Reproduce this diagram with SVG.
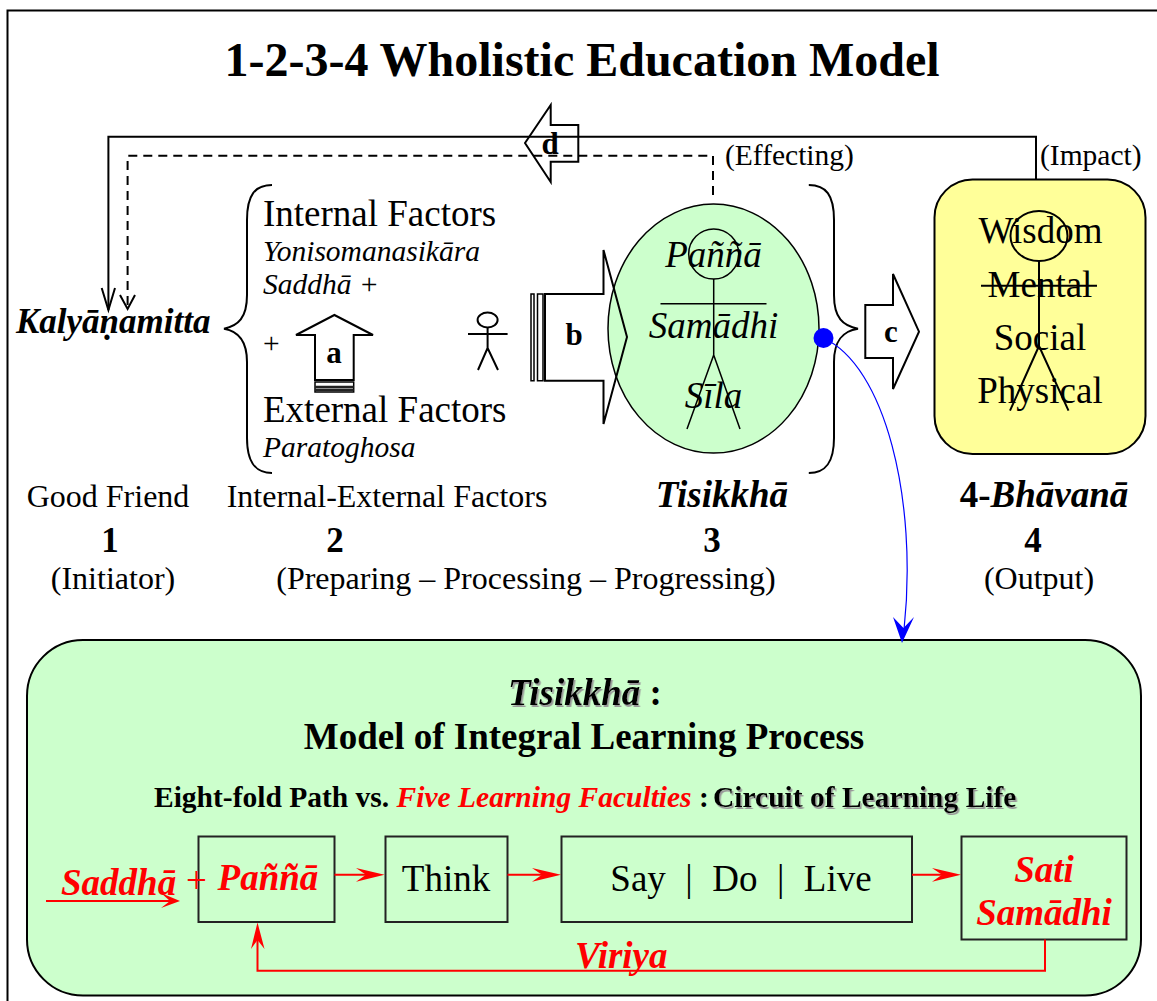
<svg xmlns="http://www.w3.org/2000/svg" width="1157" height="1001" viewBox="0 0 1157 1001">
<style>
text{font-family:"Liberation Serif","Times New Roman",serif;fill:#000}
.c{text-anchor:middle}
.b{font-weight:bold}
.i{font-style:italic}
.r{fill:#f00}
.s29{font-size:29.500px}.s32{font-size:32px}.s37{font-size:37px}.s29b{font-size:29.500px}.s31{font-size:31px}
.ln{fill:none;stroke:#000;stroke-width:2}
.thin{fill:none;stroke:#000;stroke-width:1.5}
.red{fill:none;stroke:#f00;stroke-width:2}
.box{fill:#ccffcc;stroke:#222;stroke-width:2}
.hd{fill:#f00;stroke:none}
</style>
<defs>
<filter id="sh" x="-5%" y="-20%" width="110%" height="150%"><feDropShadow dx="1.5" dy="2" stdDeviation="0.6" flood-color="#999"/></filter>
</defs>
<rect width="1157" height="1001" fill="#fff"/>
<path d="M7.500,1001V10.500H1157" class="ln"/>
<text x="582" y="76" class="c b" style="font-size:48px">1-2-3-4 Wholistic Education Model</text>

<g id="node-kalyanamitta"><text x="16" y="333" class="b i" style="font-size:35px">Kalyāṇamitta</text></g>

<g id="node-factors">
<path d="M272,185C255,185 247,195 247,220V295C247,318 238,326 224,328.700C238,331 247,340 247,362V438C247,462 255,473 272,473" class="ln"/>
<text x="263" y="226" class="s37">Internal Factors</text>
<text x="263" y="260.500" class="i s29">Yonisomanasikāra</text>
<text x="263" y="294" class="i s29">Saddhā +</text>
<text x="263" y="353" class="s29">+</text>
<text x="263" y="422" class="s37">External Factors</text>
<text x="263" y="457" class="i s29">Paratoghosa</text>
</g>

<g id="node-person-small" class="ln">
<ellipse cx="487.600" cy="320" rx="10" ry="7.500"/>
<path d="M487.600,327.500V348M468,334H507.600M478,370L487.600,348L498,370"/>
</g>

<g id="arrow-b-fill"><path d="M545,294H603.500V250L627,337L603.500,424V380.700H545Z" fill="#fff"/></g>

<g id="node-tisikkha">
<ellipse cx="713.500" cy="328.600" rx="105.500" ry="124.500" fill="#ccffcc" stroke="#000" stroke-width="1.500"/>
<g class="thin"><circle cx="713.700" cy="254" r="25"/><path d="M713.700,279V355M660.500,303.700H766.500M687,429L713.700,355L740,429"/></g>
<text x="713.500" y="267" class="c i s37">Paññā</text>
<text x="713.500" y="338" class="c i s37">Samādhi</text>
<text x="713.500" y="408" class="c i s37">Sīla</text>
</g>

<g id="node-brace-right"><path d="M808.800,185C826,185 834,195 834,220V295C834,318 843,326 858,328.700C843,331 834,340 834,362V438C834,462 826,473 808.800,473" class="ln"/></g>

<g id="node-bhavana">
<rect x="934.500" y="179.500" width="211" height="274.500" rx="38" fill="#ffff99" stroke="#000" stroke-width="2"/>
<g class="ln"><ellipse cx="1039" cy="236" rx="28.500" ry="25"/><path d="M1039,261V346M1010,410.700L1039,346L1068.500,410.700M981,285.700H1097"/></g>
<text x="1040.500" y="243" class="c s37">Wisdom</text>
<text x="1040" y="297" class="c s37">Mental</text>
<text x="1040" y="350" class="c s37">Social</text>
<text x="1040" y="403" class="c s37">Physical</text>
</g>

<g id="node-labels">
<text x="108" y="507" class="c s32">Good Friend</text>
<text x="387" y="507" class="c s32">Internal-External Factors</text>
<text x="722" y="507" class="c b i s37">Tisikkhā</text>
<text x="1044" y="507" class="c b s37">4-<tspan class="i">Bhāvanā</tspan></text>
<text x="110" y="552" class="c b" style="font-size:35px">1</text>
<text x="335" y="552" class="c b" style="font-size:35px">2</text>
<text x="712" y="552" class="c b" style="font-size:35px">3</text>
<text x="1033" y="552" class="c b" style="font-size:35px">4</text>
<text x="113" y="589" class="c s32">(Initiator)</text>
<text x="526" y="589" class="c s32">(Preparing – Processing – Progressing)</text>
<text x="1039" y="589" class="c s32">(Output)</text>
<text x="725" y="165" class="s29">(Effecting)</text>
<text x="1040" y="165" class="s29">(Impact)</text>
</g>

<g id="node-panel">
<rect x="27" y="640" width="1114" height="355.500" rx="56" fill="#ccffcc" stroke="#000" stroke-width="2"/>
<text x="585" y="705" class="c b s37"><tspan class="i" filter="url(#sh)">Tisikkhā</tspan> :</text>
<text x="584" y="749" class="c b s37">Model of Integral Learning Process</text>
</g>
<g id="node-panel-sub">
<text x="154" y="807" class="b s29">Eight-fold Path vs. <tspan class="i r">Five Learning Faculties</tspan> :</text>
<text x="713" y="807" class="b s29" filter="url(#sh)">Circuit of Learning Life</text>
</g>

<g id="node-panna"><rect x="198.500" y="836.500" width="136" height="85.500" class="box"/><text x="268" y="890" class="c b i r s37">Paññā</text></g>
<g id="node-think"><rect x="385.500" y="836.500" width="122" height="85.500" class="box"/><text x="446" y="891" class="c s37">Think</text></g>
<g id="node-say"><rect x="561.500" y="836.500" width="350.500" height="85.500" class="box"/><text x="741" y="891" class="c s37" xml:space="preserve" style="word-spacing:0.500px">Say  |  Do  |  Live</text></g>
<g id="node-sati"><rect x="961.500" y="836.500" width="165" height="103" class="box"/><text x="1044" y="882" class="c b i r s37">Sati</text><text x="1044" y="925" class="c b i r s37">Samādhi</text></g>
<g id="label-saddha"><text x="61" y="895" class="b i r s37">Saddhā</text><text x="186" y="893" class="r s37">+</text></g>
<g id="label-viriya"><text x="575" y="968" class="b i r s37">Viriya</text></g>

<g id="connectors">
<path d="M1036,180V136.700H108.400V310" class="ln"/>
<path d="M101.700,288L108.400,310L115,288" class="ln"/>
<path d="M713,195V155.700H127.600V309" class="ln" stroke-dasharray="9 6"/>
<path d="M120,295L127.600,309L135,295" class="ln"/>
<!-- block arrows -->
<path d="M315,380V335H296L334.400,315L373,335H353.700V380Z" fill="#fff" stroke="#000" stroke-width="2"/>
<path d="M315,382H353.700V392H315Z" fill="#fff" stroke="#000" stroke-width="1.500"/>
<path d="M315,387H353.700M315,390H353.700" stroke="#222" stroke-width="2.500"/>
<text x="334" y="363" class="c b s31">a</text>
<path d="M545,294H603.500V250L627,337L603.500,424V380.700H545Z" class="ln"/>
<path d="M531,294H534V380.700H531ZM537.500,294H543V380.700H537.500Z" fill="#fff" stroke="#000" stroke-width="1.500"/>
<text x="574" y="345" class="c b s31">b</text>
<path d="M865.300,305H893V274L919,331.700L893,389V358H865.300Z" fill="#fff" stroke="#000" stroke-width="2"/>
<text x="891" y="342" class="c b s31">c</text>
<path d="M525,143L550.700,105V125H578.300V161.700H550.700V182Z" class="ln"/>
<text x="550" y="154" class="c b s31">d</text>
<!-- blue -->
<circle cx="823.500" cy="338" r="10" fill="#00f"/>
<path d="M823,338C885,365 918,500 904,630" fill="none" stroke="#00f" stroke-width="1.200"/>
<path d="M902,643L893,617L903.500,628L914,617Z" fill="#00f"/>
<!-- red -->
<path d="M334.500,874.700H370" class="red"/><path d="M384.500,874.700L356,868L366,874.700L356,881.700Z" class="hd"/>
<path d="M507.500,874.700H548" class="red"/><path d="M561,874.700L532,868L542,874.700L532,881.700Z" class="hd"/>
<path d="M912,874.700H948" class="red"/><path d="M961,874.700L932,868L942,874.700L932,881.700Z" class="hd"/>
<path d="M46,901H170" class="red"/><path d="M180,901L161,893L170,901L161,908Z" class="hd"/>
<path d="M1045,939.500V970.700H257.500V935" class="red"/><path d="M257.500,922.500L251,949L257.500,940L264.500,949Z" class="hd"/>
</g>
</svg>
